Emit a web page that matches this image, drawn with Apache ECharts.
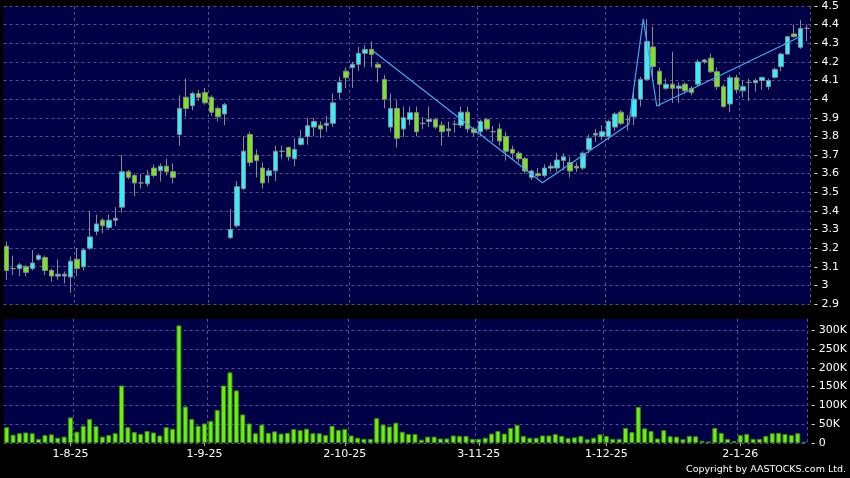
<!DOCTYPE html>
<html>
<head>
<meta charset="utf-8">
<title>AASTOCKS chart</title>
<script src="https://cdn.jsdelivr.net/npm/echarts@6/dist/echarts.min.js"></script>
<style>
  html, body { margin: 0; padding: 0; background: #000; }
  #chart { width: 850px; height: 478px; }
</style>
</head>
<body>
<div id="chart"></div>
<script>
// trading days shown on the chart (HK holidays skipped)
const firstDay = '2025-07-18'
const lastDay = '2026-01-16'
const holidays = ['2025-10-01', '2025-10-29', '2025-12-25', '2025-12-26', '2026-01-01']

// [open, close, low, high]
const candles = [
  [3.21, 3.08, 3.03, 3.235], [3.09, 3.09, 3.055, 3.16], [3.09, 3.11, 3.05, 3.12], [3.10, 3.07, 3.05, 3.11],
  [3.09, 3.12, 3.08, 3.19], [3.14, 3.16, 3.13, 3.17], [3.15, 3.08, 3.055, 3.16], [3.08, 3.05, 3.02, 3.09],
  [3.05, 3.06, 3.03, 3.14], [3.05, 3.06, 3.01, 3.075],
  [3.045, 3.13, 2.96, 3.155], [3.14, 3.09, 3.05, 3.20], [3.10, 3.19, 3.08, 3.20], [3.20, 3.26, 3.19, 3.40],
  [3.29, 3.33, 3.27, 3.38], [3.35, 3.32, 3.28, 3.36], [3.31, 3.35, 3.30, 3.38], [3.35, 3.36, 3.32, 3.42],
  [3.42, 3.61, 3.39, 3.70], [3.61, 3.58, 3.57, 3.62], [3.59, 3.55, 3.48, 3.60], [3.55, 3.55, 3.52, 3.60],
  [3.545, 3.59, 3.53, 3.62], [3.63, 3.59, 3.58, 3.65], [3.615, 3.64, 3.557, 3.655], [3.64, 3.61, 3.59, 3.68],
  [3.61, 3.58, 3.548, 3.655], [3.81, 3.95, 3.75, 4.02], [4.01, 3.95, 3.905, 4.11], [3.965, 4.03, 3.94, 4.04],
  [4.03, 4.01, 3.99, 4.05],
  [4.035, 3.98, 3.97, 4.06], [4.01, 3.93, 3.91, 4.02], [3.95, 3.905, 3.88, 3.96], [3.92, 3.97, 3.86, 3.98],
  [3.256, 3.30, 3.25, 3.41], [3.32, 3.53, 3.31, 3.56], [3.52, 3.72, 3.51, 3.80], [3.81, 3.66, 3.64, 3.825],
  [3.70, 3.67, 3.58, 3.73], [3.63, 3.55, 3.52, 3.66], [3.59, 3.615, 3.55, 3.63], [3.615, 3.72, 3.56, 3.75],
  [3.72, 3.72, 3.68, 3.75], [3.74, 3.69, 3.67, 3.745], [3.68, 3.73, 3.64, 3.79], [3.757, 3.79, 3.75, 3.835],
  [3.80, 3.857, 3.755, 3.90], [3.85, 3.88, 3.80, 3.90], [3.86, 3.84, 3.79, 3.88], [3.86, 3.87, 3.825, 3.91],
  [3.87, 3.98, 3.85, 4.03], [4.036, 4.09, 4.0, 4.12],
  [4.15, 4.115, 4.06, 4.17], [4.17, 4.187, 4.06, 4.20], [4.187, 4.246, 4.15, 4.28], [4.246, 4.267, 4.17, 4.29],
  [4.267, 4.24, 4.17, 4.31], [4.187, 4.17, 4.09, 4.195], [4.106, 4.0, 3.95, 4.13], [3.85, 3.95, 3.825, 4.03],
  [3.95, 3.79, 3.74, 3.995], [3.84, 3.90, 3.795, 3.96], [3.89, 3.927, 3.86, 3.96], [3.927, 3.825, 3.80, 3.96],
  [3.87, 3.87, 3.84, 3.905], [3.88, 3.89, 3.85, 3.96], [3.89, 3.85, 3.84, 3.90], [3.86, 3.825, 3.75, 3.88],
  [3.84, 3.83, 3.80, 3.88], [3.865, 3.865, 3.82, 3.885], [3.86, 3.93, 3.845, 3.96], [3.93, 3.84, 3.82, 3.96],
  [3.84, 3.82, 3.80, 3.85],
  [3.825, 3.88, 3.80, 3.89], [3.89, 3.84, 3.83, 3.90], [3.825, 3.825, 3.77, 3.855], [3.84, 3.775, 3.75, 3.87],
  [3.80, 3.72, 3.67, 3.825], [3.73, 3.71, 3.68, 3.75], [3.71, 3.68, 3.66, 3.72], [3.68, 3.614, 3.60, 3.69],
  [3.58, 3.614, 3.566, 3.62], [3.60, 3.59, 3.58, 3.63], [3.59, 3.63, 3.58, 3.65], [3.63, 3.64, 3.61, 3.66],
  [3.63, 3.673, 3.61, 3.71], [3.67, 3.69, 3.62, 3.71], [3.66, 3.614, 3.58, 3.69], [3.64, 3.63, 3.61, 3.66],
  [3.63, 3.71, 3.62, 3.72], [3.73, 3.79, 3.71, 3.81], [3.807, 3.816, 3.77, 3.84], [3.80, 3.825, 3.78, 3.86],
  [3.80, 3.88, 3.78, 3.89], [3.85, 3.92, 3.83, 3.93], [3.93, 3.87, 3.86, 3.94], [3.89, 3.89, 3.83, 3.915],
  [3.905, 4.0, 3.86, 4.04], [4.0, 4.106, 3.96, 4.12], [4.106, 4.31, 4.10, 4.43], [4.28, 4.175, 4.12, 4.39],
  [4.15, 4.08, 3.96, 4.17], [4.058, 4.08, 4.05, 4.11], [4.08, 4.058, 3.98, 4.255], [4.058, 4.07, 3.98, 4.09],
  [4.08, 4.045, 4.03, 4.09], [4.058, 4.035, 4.02, 4.07], [4.08, 4.20, 4.07, 4.214], [4.20, 4.21, 4.19, 4.215],
  [4.22, 4.147, 4.14, 4.245], [4.147, 4.067, 4.05, 4.17], [4.067, 3.96, 3.955, 4.08], [3.974, 4.115, 3.93, 4.13],
  [4.115, 4.05, 4.03, 4.13], [4.045, 4.067, 4.01, 4.10], [4.09, 4.09, 3.99, 4.11], [4.088, 4.10, 4.04, 4.11],
  [4.10, 4.117, 4.05, 4.12], [4.067, 4.10, 4.05, 4.11], [4.117, 4.16, 4.11, 4.17], [4.174, 4.242, 4.15, 4.25],
  [4.242, 4.335, 4.24, 4.34], [4.35, 4.335, 4.33, 4.40], [4.278, 4.38, 4.27, 4.425], [4.38, 4.38, 4.31, 4.40]
]

// daily volume, shares
const volumes = [
  42000, 22000, 26000, 28000, 26000, 11000, 21000, 23000, 14000, 17000,
  68000, 30000, 46000, 64000, 45000, 17000, 21000, 26000, 153000, 42000,
  29000, 24000, 32000, 28000, 20000, 42000, 38000, 313000, 97000, 64000,
  46000, 52000, 59000, 88000, 153000, 188000, 140000, 76000, 52000, 26000,
  49000, 27000, 31000, 25000, 27000, 37000, 34000, 38000, 26000, 26000,
  21000, 46000, 35000, 37000, 20000, 14000, 11000, 11000, 66000, 49000,
  44000, 54000, 30000, 24000, 24000, 9000, 17000, 17000, 12000, 12000,
  20000, 19000, 19000, 11000, 11000, 14000, 25000, 32000, 25000, 40000,
  48000, 19000, 14000, 14000, 20000, 20000, 24000, 19000, 13000, 15000,
  19000, 10000, 14000, 23000, 19000, 11000, 11000, 40000, 29000, 96000,
  39000, 32000, 12000, 34000, 18000, 17000, 10000, 19000, 18000, 6000,
  4000, 40000, 27000, 11000, 5000, 21000, 24000, 11000, 11000, 19000,
  26000, 27000, 24000, 21000, 26000, 3000
]

// zigzag overlay: turning points (position in trading days, price)
const zigX = [57.2, 83.7, 97.2, 99.45, 101.56, 123.95]
const zigY = [4.26, 3.551, 3.865, 4.43, 3.963, 4.335]

// month gridlines fall on the left edge of these days
const gridDays = [11, 32, 54, 74, 94, 115]

function tradingDays (from, to, skip) {
  const out = []
  const d = new Date(from + 'T00:00:00Z')
  const end = new Date(to + 'T00:00:00Z')
  while (d <= end) {
    const s = d.toISOString().slice(0, 10)
    const wd = d.getUTCDay()
    if (wd !== 0 && wd !== 6 && !skip.includes(s)) out.push(s)
    d.setUTCDate(d.getUTCDate() + 1)
  }
  return out
}

const dates = tradingDays(firstDay, lastDay, holidays)
// label the first trading day of each new month
const labelDays = dates.map((d, i) => (i > 0 && d.slice(5, 7) !== dates[i - 1].slice(5, 7)) ? i : -1).filter(i => i >= 0)

const navy = '#000046'
const gridColor = '#52528e'
const font = 'DejaVu Sans'

const chart = echarts.init(document.getElementById('chart'))

const dashed = { color: gridColor, type: [3, 3], width: 1 }

chart.setOption({
  backgroundColor: '#000',
  animation: false,
  grid: [
    { left: 3.5, right: 40, top: 6, height: 298, show: true, backgroundColor: navy, borderWidth: 0 },
    { left: 3.5, right: 40, top: 319, height: 124, show: true, backgroundColor: navy, borderWidth: 0 }
  ],
  xAxis: [
    {
      type: 'category',
      gridIndex: 0,
      data: dates,
      boundaryGap: true,
      axisLine: { show: false },
      axisTick: { show: false },
      axisLabel: { show: false },
      splitLine: { show: true, interval: (i) => gridDays.includes(i), lineStyle: dashed }
    },
    {
      type: 'category',
      gridIndex: 1,
      data: dates,
      boundaryGap: true,
      axisLine: { show: false },
      axisTick: { show: true, alignWithLabel: true, interval: (i) => labelDays.includes(i), length: 3, lineStyle: { color: '#aaa' } },
      axisLabel: {
        interval: (i) => labelDays.includes(i),
        color: '#fff',
        fontFamily: font,
        fontSize: 11,
        margin: 6,
        formatter: (v) => {
          const p = v.split('-')
          return (+p[2]) + '-' + (+p[1]) + '-' + p[0].slice(2)
        }
      },
      splitLine: { show: true, interval: (i) => gridDays.includes(i), lineStyle: dashed }
    },
    {
      // hidden value axis so the zigzag turning points can sit between days
      type: 'value',
      gridIndex: 0,
      min: -0.5,
      max: dates.length - 0.5,
      show: false
    }
  ],
  yAxis: [
    {
      type: 'value',
      gridIndex: 0,
      position: 'right',
      min: 2.9,
      max: 4.5,
      interval: 0.1,
      axisLine: { show: false },
      axisTick: { show: false },
      axisLabel: {
        color: '#fff',
        fontFamily: font,
        fontSize: 11,
        margin: 4,
        formatter: (v) => '- ' + (+v.toFixed(1))
      },
      splitLine: { show: true, lineStyle: dashed }
    },
    {
      type: 'value',
      gridIndex: 1,
      position: 'right',
      min: 0,
      max: 330000,
      interval: 50000,
      axisLine: { show: false },
      axisTick: { show: false },
      axisLabel: {
        color: '#fff',
        fontFamily: font,
        fontSize: 11,
        margin: 4,
        showMaxLabel: false,
        formatter: (v) => '- ' + (v === 0 ? '0' : (v / 1000) + 'K')
      },
      splitLine: { show: true, showMaxLine: false, lineStyle: dashed }
    }
  ],
  series: [
    {
      name: 'price',
      type: 'candlestick',
      xAxisIndex: 0,
      yAxisIndex: 0,
      data: candles,
      barWidth: 5,
      itemStyle: {
        color: '#2ff0ff',
        color0: '#78e61e',
        borderColor: '#8a8a8a',
        borderColor0: '#8a8a8a',
        borderColorDoji: '#8a8a8a',
        borderWidth: 1
      }
    },
    {
      name: 'zigzag',
      type: 'line',
      xAxisIndex: 2,
      yAxisIndex: 0,
      data: zigX.map((x, i) => [x, zigY[i]]),
      symbol: 'none',
      lineStyle: { color: '#44a8ee', width: 1.2 },
      z: 5
    },
    {
      name: 'volume',
      type: 'bar',
      xAxisIndex: 1,
      yAxisIndex: 1,
      data: volumes,
      barWidth: 5,
      itemStyle: { color: '#6cf014', borderColor: '#3b8c0c', borderWidth: 1 }
    }
  ],
  graphic: [
    {
      type: 'text',
      right: 4,
      bottom: 3,
      style: { text: 'Copyright by AASTOCKS.com Ltd.', fill: '#fff', font: '9.5px "DejaVu Sans"' }
    }
  ]
})
</script>
</body>
</html>
